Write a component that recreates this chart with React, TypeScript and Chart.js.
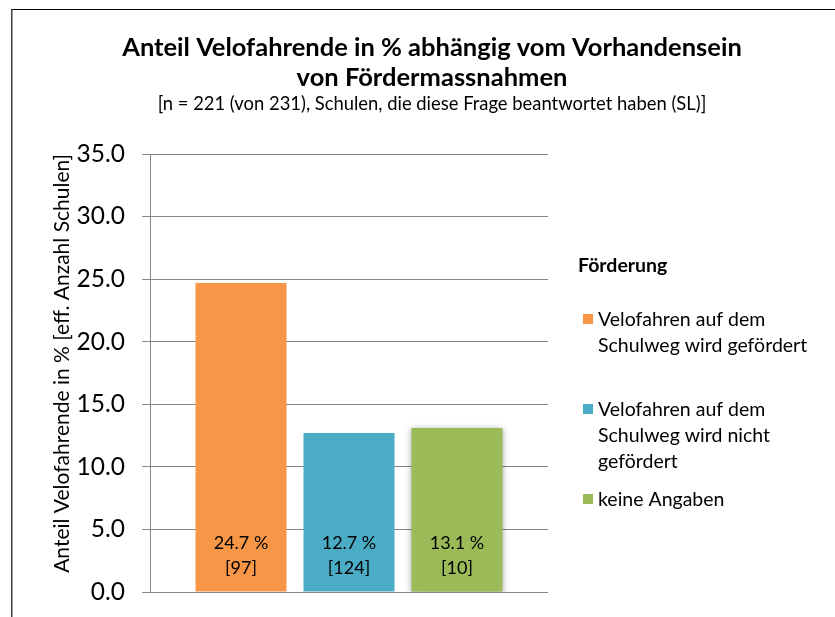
import React, { useEffect, useRef } from "react";
import { Chart, registerables } from "chart.js";

Chart.register(...registerables);

const categories = [""];
const seriesLabels = [
  ["Velofahren auf dem", "Schulweg wird gefördert"],
  ["Velofahren auf dem", "Schulweg wird nicht", "gefördert"],
  ["keine Angaben"],
];
const seriesValues = [24.7, 12.7, 13.1];
const seriesCounts = [97, 124, 10];
const seriesColors = ["#F79646", "#4BACC6", "#9BBB59"];
const titleLines = ["Anteil Velofahrende in % abhängig vom Vorhandensein", "von Fördermassnahmen"];
const subtitleText = "[n = 221 (von 231), Schulen, die diese Frage beantwortet haben (SL)]";
const yAxisTitle = "Anteil Velofahrende in % [eff. Anzahl Schulen]";
const legendTitle = "Förderung";
const yMin = 0;
const yMax = 35;
const yStep = 5;

const FONT = "Lato, 'Open Sans', sans-serif";

const customPlugin = {
  id: "custom",
  beforeDatasetDraw(chart: any, args: any) {
    if (args.index === 2) {
      const ctx = chart.ctx;
      ctx.save();
      ctx.shadowColor = "rgba(0,0,0,0.35)";
      ctx.shadowBlur = 6;
      ctx.shadowOffsetX = 0;
      ctx.shadowOffsetY = 1;
    }
  },
  afterDatasetDraw(chart: any, args: any) {
    if (args.index === 2) chart.ctx.restore();
  },
  afterDraw(chart: any) {
    const ctx = chart.ctx;
    ctx.save();
    // frame
    ctx.strokeStyle = "#000";
    ctx.lineWidth = 1;
    ctx.beginPath();
    ctx.moveTo(11, 9.5);
    ctx.lineTo(chart.width, 9.5);
    ctx.stroke();
    ctx.strokeStyle = "#444";
    ctx.beginPath();
    ctx.moveTo(11.5, 9);
    ctx.lineTo(11.5, chart.height);
    ctx.stroke();
    ctx.strokeStyle = "#9a9a9a";
    ctx.beginPath();
    ctx.moveTo(12.5, 10);
    ctx.lineTo(12.5, chart.height);
    ctx.stroke();

    // data labels
    const base = chart.scales.y.getPixelForValue(0);
    ctx.fillStyle = "#000";
    ctx.font = `18px ${FONT}`;
    ctx.textAlign = "center";
    ctx.textBaseline = "middle";
    chart.data.datasets.forEach((ds: any, i: number) => {
      const meta = chart.getDatasetMeta(i);
      const bar = meta.data[0];
      ctx.fillText(`${seriesValues[i].toFixed(1)} %`, bar.x, base - 49);
      ctx.fillText(`[${seriesCounts[i]}]`, bar.x, base - 24);
    });

    // legend
    ctx.textAlign = "left";
    ctx.font = `bold 19.5px ${FONT}`;
    ctx.fillText(legendTitle, 578, 266);
    ctx.font = `19.5px ${FONT}`;
    seriesLabels.forEach((lines, i) => {
      const y0 = 320 + i * 90;
      ctx.fillStyle = seriesColors[i];
      ctx.fillRect(583, y0 - 6, 10, 10);
      ctx.fillStyle = "#000";
      lines.forEach((ln, j) => ctx.fillText(ln, 598, y0 + j * 26));
    });
    ctx.restore();
  },
};

export default function App() {
  const ref = useRef<HTMLCanvasElement>(null);
  useEffect(() => {
    const chart = new Chart(ref.current!, {
      type: "bar",
      data: {
        labels: categories,
        datasets: seriesValues.map((v, i) => ({
          label: seriesLabels[i].join(" "),
          data: [v],
          backgroundColor: seriesColors[i],
          borderWidth: 0,
          categoryPercentage: 0.814,
          barPercentage: 0.843,
        })),
      },
      options: {
        responsive: false,
        animation: false,
        layout: { autoPadding: false, padding: { left: 11, right: 0, top: 0, bottom: 25 } },
        plugins: {
          legend: { display: false },
          tooltip: { enabled: false },
          title: {
            display: true,
            text: titleLines,
            color: "#000",
            font: { family: FONT, size: 25.5, weight: "bold", lineHeight: 29.5 / 25.5 },
            padding: { top: 33.5, bottom: 0 },
          },
          subtitle: {
            display: true,
            text: subtitleText,
            color: "#000",
            font: { family: FONT, size: 18.4, lineHeight: 20 / 18.4 },
            padding: { top: 1.5, bottom: 40 },
          },
        },
        scales: {
          x: { display: false },
          y: {
            min: yMin,
            max: yMax,
            position: "left",
            afterFit: (s: any) => { s.width = 139; s.paddingTop = 0; s.paddingBottom = 0; },
            ticks: {
              stepSize: yStep,
              padding: 17,
              color: "#000",
              font: { family: FONT, size: 24.5 },
              callback: (v: any) => Number(v).toFixed(1),
            },
            grid: { color: "#868686", lineWidth: 1, tickLength: 8, drawTicks: true },
            border: { display: true, color: "#868686", width: 1 },
            title: {
              display: true,
              text: yAxisTitle,
              align: "end",
              color: "#000",
              font: { family: FONT, size: 21, lineHeight: 1.2 },
              padding: { top: 38.4, bottom: 0 },
            },
          },
          y2: {
            position: "right",
            display: true,
            afterFit: (s: any) => { s.width = 305; s.paddingTop = 0; s.paddingBottom = 0; },
            ticks: { display: false },
            grid: { display: false, drawTicks: false },
            border: { display: false },
          },
        },
      },
      plugins: [customPlugin],
    });
    return () => chart.destroy();
  }, []);
  return (
    <div style={{ position: "absolute", left: 0, top: 0, width: 835, height: 617, overflow: "hidden", background: "#fff" }}>
      <canvas ref={ref} width={853} height={617} style={{ display: "block" }} />
    </div>
  );
}
